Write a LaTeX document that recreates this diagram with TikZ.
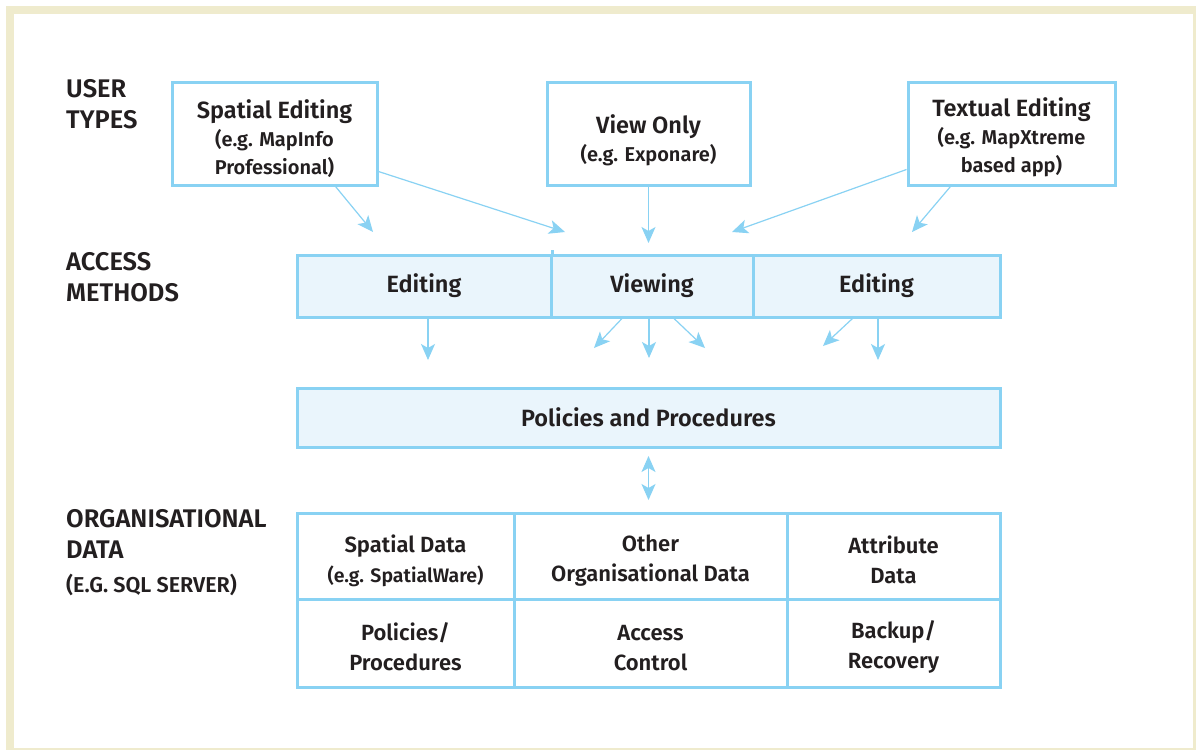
\documentclass[tikz,border=0pt]{standalone}
\usepackage{fontspec}
\setmainfont{Fira Sans}[BoldFont={Fira Sans SemiBold}]
\usetikzlibrary{arrows.meta}
\definecolor{skyline}{RGB}{137,210,243}
\definecolor{skyfill}{RGB}{234,245,252}
\definecolor{paper}{RGB}{239,235,205}
\definecolor{ink}{RGB}{35,31,32}

\begin{document}
\begin{tikzpicture}[x=1pt, y=-1pt,
        usertype/.style={draw=skyline, line width=3pt, fill=white, text=ink, align=center, inner sep=0pt, minimum height=103pt, font=\bfseries\fontsize{23.5}{28}\selectfont},
        access/.style={draw=skyline, line width=3pt, fill=skyfill, text=ink, align=center, inner sep=0pt, minimum height=62pt, font=\bfseries\fontsize{23.5}{28}\selectfont},
        cell/.style={draw=skyline, line width=3pt, fill=white, text=ink, align=center, inner sep=0pt, font=\bfseries\fontsize{22}{30}\selectfont},
        rowlabel/.style={anchor=west, align=left, text=ink, inner sep=0pt, font=\bfseries\fontsize{25.5}{31}\selectfont},
        flow/.style={-{Stealth[length=16pt, width=14pt, inset=4pt]}, line width=1.2pt, draw=skyline},
        eg/.style={font=\bfseries\fontsize{20}{27}\selectfont}
    ]
    \useasboundingbox (0,0) rectangle (1196,750);

    % frame
    \fill[paper] (6,6) rectangle (1196,750);
    \fill[white] (14,14) rectangle (1193,748);

    % row labels
    \node[rowlabel] (lblUser) at (66,104) {USER\\TYPES};
    \node[rowlabel] (lblAccess) at (66,277.5) {ACCESS\\METHODS};
    \node[rowlabel] (lblOrg) at (66,533.5) {ORGANISATIONAL\\DATA};
    \node[rowlabel, font=\bfseries\fontsize{21.5}{26}\selectfont] (lblSql) at (66,585) {(E.G. SQL SERVER)};

    % user types
    \node[usertype, minimum width=205pt] (spatial) at (274.5,133.5) {\rule{0pt}{30pt}Spatial Editing\\{\fontsize{20}{27}\selectfont (e.g. MapInfo}\\{\fontsize{20}{27}\selectfont Professional)}};
    \node[usertype, minimum width=203pt] (viewonly) at (648.5,133.5) {\rule{0pt}{32pt}View Only\\{\fontsize{20}{29}\selectfont (e.g. Exponare)}};
    \node[usertype, minimum width=207pt] (textual) at (1011.5,133.5) {\rule{0pt}{26pt}Textual Editing\\{\fontsize{20}{28}\selectfont (e.g. MapXtreme}\\{\fontsize{20}{28}\selectfont based app)}};

    % access methods
    \node[access, minimum width=254pt] (accEdit) at (424,286) {Editing};
    \node[access, minimum width=202pt] (accView) at (652,286) {Viewing};
    \node[access, minimum width=247pt] (accText) at (876.5,286) {Editing};
    \draw[skyline, line width=3pt] (accEdit.north east) -- ++(0,-4);

    % policies
    \node[access, minimum width=703pt, minimum height=59pt] (policies) at (648.5,417.5) {Policies and Procedures};

    % organisational data
    \node[cell, minimum width=217pt, minimum height=86pt] (spData) at (405.5,556) {\rule{0pt}{28pt}Spatial Data\\{\fontsize{19.5}{28}\selectfont (e.g. SpatialWare)}};
    \node[cell, minimum width=273pt, minimum height=86pt] (orgData) at (650.5,556) {\rule{0pt}{26pt}Other\\Organisational Data};
    \node[cell, minimum width=213pt, minimum height=86pt] (attrData) at (893.5,556) {\rule{0pt}{26pt}Attribute\\Data};
    \node[cell, minimum width=217pt, minimum height=88pt] (polData) at (405.5,643) {\rule{0pt}{26pt}Policies/\\Procedures};
    \node[cell, minimum width=273pt, minimum height=88pt] (accCtrl) at (650.5,643) {\rule{0pt}{26pt}Access\\Control};
    \node[cell, minimum width=213pt, minimum height=88pt] (backup) at (893.5,643) {\rule{0pt}{26pt}Backup/\\Recovery};

    % arrow ends
    \coordinate (e1) at (373,232);
    \coordinate (e2) at (565,232);
    \coordinate (e3) at (648.5,243);
    \coordinate (e4) at (732,232);
    \coordinate (e5) at (912,232);
    \coordinate (e6) at (428,360);
    \coordinate (e7) at (594,348);
    \coordinate (e8) at (649,358);
    \coordinate (e9) at (705,348);
    \coordinate (e10) at (823,346);
    \coordinate (e11) at (878,360);
    \coordinate (d1) at (648.5,456);
    \coordinate (d2) at (648.5,500);

    % user types to access methods
    \draw[flow] ([xshift=61pt]spatial.south) -- (e1);
    \draw[flow] ([yshift=-38pt]spatial.east) -- (e2);
    \draw[flow] (viewonly.south) -- (e3);
    \draw[flow] ([yshift=-36pt]textual.west) -- (e4);
    \draw[flow] ([xshift=-61pt]textual.south) -- (e5);

    % access methods to policies
    \draw[flow] ([xshift=4pt]accEdit.south) -- (e6);
    \draw[flow] ([xshift=-30pt]accView.south) -- (e7);
    \draw[flow] ([xshift=-3pt]accView.south) -- (e8);
    \draw[flow] ([xshift=22pt]accView.south) -- (e9);
    \draw[flow] ([xshift=-24pt]accText.south) -- (e10);
    \draw[flow] ([xshift=1.5pt]accText.south) -- (e11);

    % policies to data
    \draw[flow, arrows={Stealth[length=16pt, width=14pt, inset=4pt]-Stealth[length=16pt, width=14pt, inset=4pt]}] (d1) -- (d2);
\end{tikzpicture}
\end{document}
